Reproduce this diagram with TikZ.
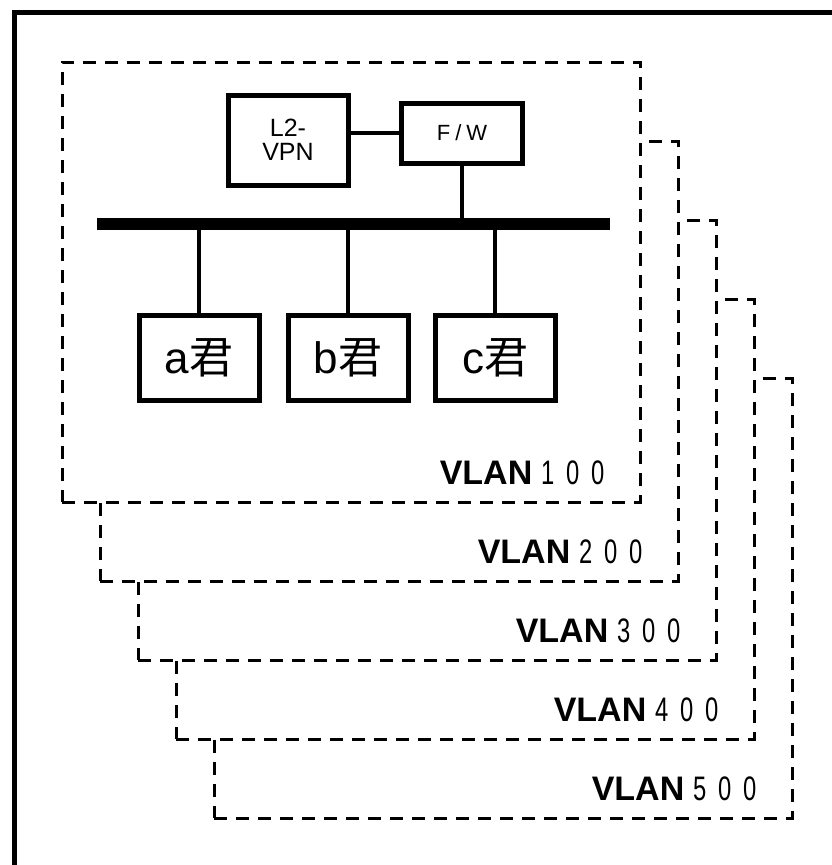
\documentclass[tikz,border=0pt]{standalone}
\usepackage{fontspec}
\setmainfont{Liberation Sans}
\newfontfamily\cjk{Noto Sans CJK JP}
\newfontfamily\narrowdigits[FakeStretch=0.7]{Liberation Sans}
\usetikzlibrary{positioning}
\newcommand{\vdigit}[1]{\makebox[25pt]{\narrowdigits #1}}
\newcommand{\vlanname}[1]{{\bfseries VLAN}\hspace{3pt}\vdigit{#1}\vdigit{0}\vdigit{0}}

\begin{document}
\begin{tikzpicture}[x=1pt,y=-1pt,
  vlanbox/.style={draw,line width=3pt,dash pattern=on 13pt off 9pt,fill=white,
    minimum width=578pt,minimum height=440pt,inner sep=0pt},
  vlanlabel/.style={font=\fontsize{34}{40}\selectfont,anchor=base east,inner sep=0pt},
  unit/.style={draw,line width=5pt,inner sep=0pt},
  host/.style={unit,minimum width=120pt,minimum height=85pt,font=\fontsize{44}{48}\selectfont},
  link/.style={line width=4pt}]
\useasboundingbox (0,0) rectangle (832,865);
\clip (0,0) rectangle (832,865);
\draw[line width=5pt] (14,12) rectangle (860,890);

% stacked VLANs, back to front
\foreach \k in {5,4,3,2,1}{
  \node[vlanbox] (v\k) at ({351+38*(\k-1)},{282+79*(\k-1)}) {};
  \node[vlanlabel] (lbl\k) at ([shift={(-31,-19)}]v\k.south east) {\vlanname{\k}};
}

% contents of VLAN100
\node[unit,minimum width=120pt,minimum height=90pt,align=center,
  font=\fontsize{25}{24}\selectfont] (vpn) at (288,140) {L2-\\VPN};
\node[unit,minimum width=121pt,minimum height=60pt,
  font=\fontsize{22}{24}\selectfont] (fw) at (462,133) {F\hspace{5pt}/\hspace{5pt}W};
\coordinate (busL) at (97,224);
\coordinate (busR) at (610,224);
\draw[line width=12pt] (busL) -- (busR);
\node[host] (a) at (199,358) {a{\cjk 君}};
\node[host] (b) at (348,358) {b{\cjk 君}};
\node[host] (c) at (495,358) {c{\cjk 君}};
\draw[link] (vpn.east |- fw) -- (fw);
\draw[link] (fw) -- (fw |- busL);
\foreach \h in {a,b,c} \draw[link] (\h) -- (\h |- busL);
\end{tikzpicture}
\end{document}
